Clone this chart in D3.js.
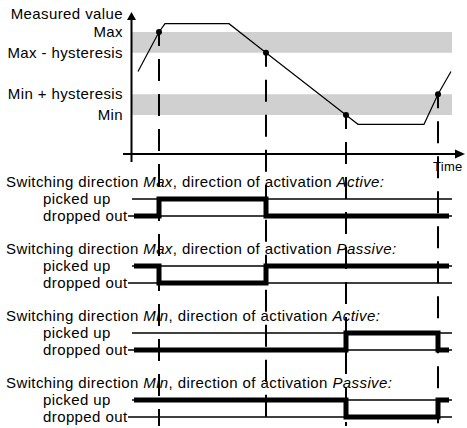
<!DOCTYPE html>
<html>
<head>
<meta charset="utf-8">
<script src="https://cdn.jsdelivr.net/npm/d3@7"></script>
<style>
  body { margin: 0; background: #fff; }
  text { font-family: "Liberation Sans", Arial, sans-serif; font-size: 15px; letter-spacing: 0.4px; fill: #000; }
</style>
</head>
<body>
<div id="chart"></div>
<script>
// measured value over time (time units, value units)
var curveTimes  = [7, 28, 34, 98, 135, 215, 227, 293, 307, 320];
var curveValues = [41, 60, 64, 64, 50, 20, 15.5, 15.5, 30, 41];

// switching instants (marked points on the curve)
var switchTimes = [28, 135, 215, 307];

// threshold levels
var levelNames  = ["Max", "Max - hysteresis", "Min + hysteresis", "Min"];
var levelValues = [60, 50, 30, 20];

// switching panels: state per interval between switch instants (1 = picked up)
var panelDirections  = ["Max", "Max", "Min", "Min"];
var panelActivations = ["Active:", "Passive:", "Active:", "Passive:"];
var panelStates = [
  [0, 1, 0, 0, 0],
  [1, 0, 1, 1, 1],
  [0, 0, 0, 1, 0],
  [1, 1, 1, 0, 1]
];
var stateNames = ["picked up", "dropped out"];

var width = 467, height = 428;

var svg = d3.select("#chart").append("svg")
    .attr("width", width)
    .attr("height", height);

var x = d3.scaleLinear().domain([0, 320]).range([131, 451]);
var y = d3.scaleLinear().domain([20, 60]).range([115, 32]);

// grey hysteresis bands
svg.selectAll("rect.band")
  .data([[levelValues[0], levelValues[1]], [levelValues[2], levelValues[3]]])
  .enter().append("rect")
    .attr("class", "band")
    .attr("x", x(0))
    .attr("width", x(321) - x(0))
    .attr("y", function(d){ return y(d[0]); })
    .attr("height", function(d){ return y(d[1]) - y(d[0]); })
    .style("fill", "#d0d0d0");

// level labels
svg.selectAll("text.level")
  .data(levelValues)
  .enter().append("text")
    .attr("class", "level")
    .attr("x", 123)
    .attr("y", function(d){ return y(d) + 5; })
    .attr("text-anchor", "end")
    .text(function(d, i){ return levelNames[i]; });

svg.append("text")
    .attr("x", 123).attr("y", 19)
    .attr("text-anchor", "end")
    .text("Measured value");

// axes
var axisY = 154;
svg.append("line")
    .attr("x1", 131.5).attr("x2", 131.5)
    .attr("y1", 18).attr("y2", 162)
    .style("stroke", "#000").style("stroke-width", 2);
svg.append("path")
    .attr("d", "M131.5,12 L127,20 L136,20 Z")
    .style("fill", "#000");
svg.append("line")
    .attr("x1", 123).attr("x2", 457)
    .attr("y1", axisY).attr("y2", axisY)
    .style("stroke", "#000").style("stroke-width", 2);
svg.append("path")
    .attr("d", "M465," + axisY + " L455," + (axisY - 4.5) + " L455," + (axisY + 4.5) + " Z")
    .style("fill", "#000");
svg.append("text")
    .attr("x", 433).attr("y", 171)
    .style("font-size", "13px")
    .style("letter-spacing", "0.3px")
    .text("Time");

// vertical dashed lines at switch instants
function curveValueAt(t){
  var i = d3.bisectRight(curveTimes, t) - 1;
  if (i >= curveTimes.length - 1) return curveValues[curveValues.length - 1];
  var f = (t - curveTimes[i]) / (curveTimes[i + 1] - curveTimes[i]);
  return curveValues[i] + f * (curveValues[i + 1] - curveValues[i]);
}

svg.selectAll("line.switch")
  .data(switchTimes)
  .enter().append("line")
    .attr("class", "switch")
    .attr("x1", function(d){ return x(d); })
    .attr("x2", function(d){ return x(d); })
    .attr("y1", function(d){ return y(curveValueAt(d)); })
    .attr("y2", 426)
    .style("stroke", "#000")
    .style("stroke-width", 2)
    .style("stroke-dasharray", "22,13")
    .style("stroke-dashoffset", 8);

// measured value curve
var line = d3.line()
    .x(function(d){ return x(d); })
    .y(function(d, i){ return y(curveValues[i]); });

svg.append("path")
    .attr("d", line(curveTimes))
    .style("fill", "none")
    .style("stroke", "#000")
    .style("stroke-width", 1.2);

svg.selectAll("circle.pt")
  .data(switchTimes)
  .enter().append("circle")
    .attr("class", "pt")
    .attr("cx", function(d){ return x(d); })
    .attr("cy", function(d){ return y(curveValueAt(d)); })
    .attr("r", 3)
    .style("fill", "#000");

// switching panels
var panelStep = 67;
var edges = [3].concat(switchTimes, [318]);

panelStates.forEach(function(states, p){
  var top = 187 + p * panelStep;
  var g = svg.append("g");
  var lev = d3.scaleOrdinal().domain([1, 0]).range([top + 12, top + 29]);

  var title = g.append("text").attr("x", 6).attr("y", top);
  title.append("tspan").text("Switching direction ");
  title.append("tspan").style("font-style", "italic").text(panelDirections[p]);
  title.append("tspan").text(", direction of activation ");
  title.append("tspan").style("font-style", "italic").text(panelActivations[p]);

  g.selectAll("line.level")
    .data([1, 0])
    .enter().append("line")
      .attr("x1", function(d){ return d ? x(1) : 128; })
      .attr("x2", x(321))
      .attr("y1", function(d){ return lev(d); })
      .attr("y2", function(d){ return lev(d); })
      .style("stroke", "#000")
      .style("stroke-width", 1.3);

  g.selectAll("text.state")
    .data([1, 0])
    .enter().append("text")
      .attr("x", 43)
      .attr("y", function(d){ return lev(d) + 5; })
      .text(function(d, i){ return stateNames[i]; });

  // thick step signal
  var pts = [];
  states.forEach(function(s, i){
    pts.push([edges[i], s]);
    pts.push([edges[i + 1], s]);
  });
  g.append("path")
    .attr("d", d3.line()
      .x(function(d){ return x(d[0]); })
      .y(function(d){ return lev(d[1]); })(pts))
    .style("fill", "none")
    .style("stroke", "#000")
    .style("stroke-width", 5)
    .style("stroke-linejoin", "miter")
    .style("stroke-linecap", "butt");
});
</script>
</body>
</html>
